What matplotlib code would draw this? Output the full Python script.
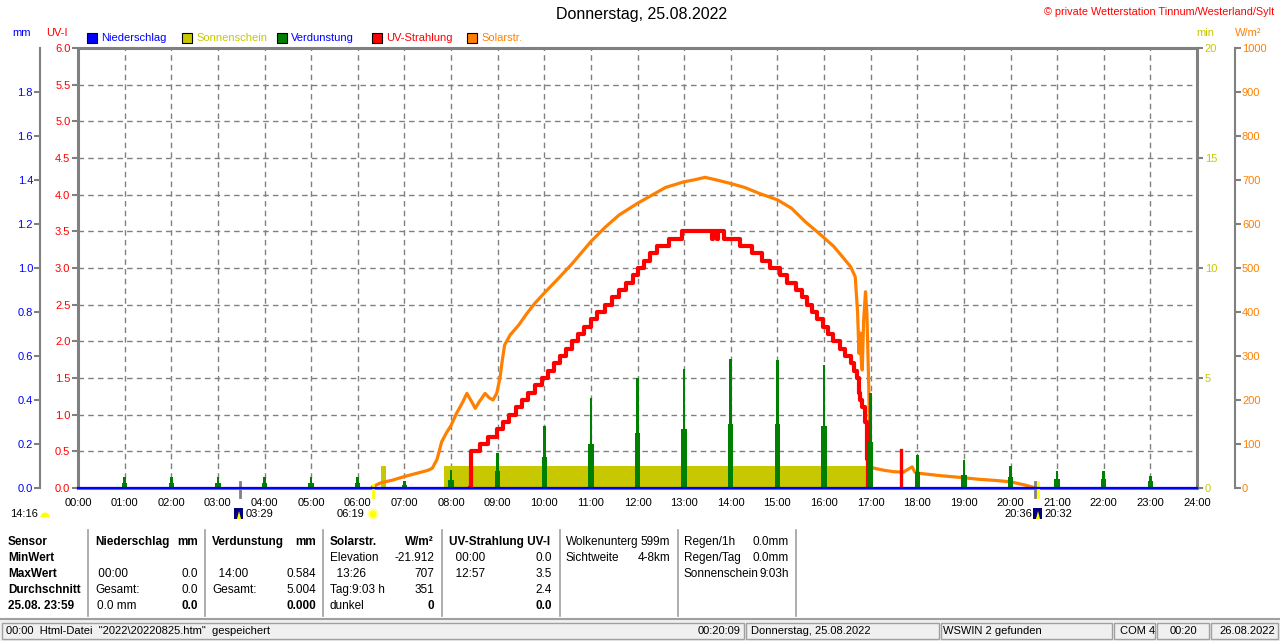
import matplotlib
matplotlib.use('Agg')
import matplotlib.pyplot as plt
import matplotlib.transforms as mtransforms
from matplotlib.patches import Rectangle, Circle, Wedge, Polygon
from matplotlib.lines import Line2D

plt.rcParams['font.family'] = ['Liberation Sans', 'DejaVu Sans']

# ---- data ----
hours = list(range(25))
hour_labels = [f"{h:02d}:00" for h in hours]

# Niederschlag (mm) - nothing fell
rain_t = [0, 24]
rain_mm = [0.0, 0.0]

# Sonnenschein (min per minute step)
sun_t = [0, 6.50, 6.61, 7.86, 16.95, 24]
sun_min = [0, 1, 0, 1, 0, 0]

# Verdunstung (mm), spikes at the full hours: tall part and lower part
evap_h = list(range(1, 24))
evap_top = [0.052, 0.052, 0.052, 0.052, 0.052, 0.052, 0.03, 0.082, 0.158, 0.28,
            0.41, 0.50, 0.54, 0.586, 0.58, 0.56, 0.43, 0.15, 0.127, 0.10,
            0.077, 0.077, 0.055]
evap_low = [0.024, 0.024, 0.024, 0.024, 0.024, 0.024, 0.015, 0.036, 0.077, 0.14,
            0.20, 0.25, 0.27, 0.29, 0.29, 0.28, 0.21, 0.074, 0.06, 0.05,
            0.04, 0.04, 0.03]

# UV-Strahlung (UV-I), stepped
uv_t = [8.40, 8.42, 8.62, 8.80, 8.98, 9.12, 9.25, 9.40, 9.52, 9.65, 9.80, 9.95,
        10.08, 10.20, 10.33, 10.46, 10.60, 10.73, 10.86, 11.00, 11.14, 11.30,
        11.45, 11.60, 11.75, 11.90, 12.00, 12.13, 12.27, 12.42, 12.67, 12.95,
        13.60, 13.63, 13.70, 13.73, 13.85, 14.20, 14.45, 14.67, 14.85, 15.06,
        15.20, 15.40, 15.52, 15.64, 15.75, 15.85, 15.97, 16.08, 16.20, 16.35,
        16.45, 16.57, 16.64, 16.71, 16.75, 16.78, 16.82, 16.89, 16.92, 16.95]
uv_val = [0.0, 0.5, 0.6, 0.7, 0.8, 0.9, 1.0, 1.1, 1.2, 1.3, 1.4, 1.5,
          1.6, 1.7, 1.8, 1.9, 2.0, 2.1, 2.2, 2.3, 2.4, 2.5,
          2.6, 2.7, 2.8, 2.9, 3.0, 3.1, 3.2, 3.3, 3.4, 3.5,
          3.4, 3.5, 3.4, 3.5, 3.4, 3.3, 3.2, 3.1, 3.0, 2.9,
          2.8, 2.7, 2.6, 2.5, 2.4, 2.3, 2.2, 2.1, 2.0, 1.9,
          1.8, 1.7, 1.6, 1.5, 1.3, 1.2, 1.1, 0.9, 0.4, 0.0]
uv_spike_t = [17.66, 17.66]
uv_spike_val = [0.0, 0.52]

# Solarstrahlung (W/m2)
solar_t = [6.32, 6.5, 6.75, 7.0, 7.25, 7.5, 7.6, 7.7, 7.8, 7.9, 8.0, 8.12, 8.25,
           8.34, 8.45, 8.52, 8.6, 8.73, 8.82, 8.9, 8.98, 9.05, 9.1, 9.15, 9.27,
           9.45, 9.63, 9.8, 10.0, 10.3, 10.6, 11.0, 11.3, 11.6, 12.0, 12.3, 12.6,
           13.0, 13.2, 13.45, 13.7, 14.0, 14.3, 14.6, 15.0, 15.3, 15.6, 15.9,
           16.2, 16.4, 16.57, 16.67, 16.72, 16.75, 16.78, 16.8, 16.82, 16.85,
           16.89, 16.92, 16.96, 16.99, 17.07, 17.3, 17.5, 17.7, 17.89, 17.95,
           18.07, 18.5, 18.93, 19.3, 19.7, 20.0, 20.3, 20.55]
solar_w = [3, 12, 18, 26, 33, 40, 45, 65, 105, 125, 142, 170, 195,
           215, 195, 181, 195, 215, 205, 200, 215, 250, 290, 325, 348,
           370, 397, 420, 443, 476, 510, 560, 592, 620, 647, 665, 683,
           696, 700, 706, 700, 692, 683, 670, 655, 636, 605, 578,
           550, 525, 503, 480, 400, 306, 352, 290, 268, 380,
           446, 397, 230, 50, 45, 40, 37, 36, 48, 36,
           33, 28, 24, 20, 17, 14, 7, 0]

RED = '#FF0000'
ORANGE = '#FF8000'
GREEN = '#008000'
OLIVE = '#C8C800'
BLUE = '#0000FF'
GRAY = '#808080'

W, H = 1280, 641
fig = plt.figure(figsize=(12.8, 6.41), dpi=100)
fig.patch.set_facecolor('white')


def T(x, y, s, **kw):
    kw.setdefault('va', 'center')
    kw.setdefault('fontsize', 8.5)
    fig.text(x / W, 1 - y / H, s, **kw)


def P(x, y):
    return (x / 100.0, (H - y) / 100.0)


# ---- axes ----
ax = fig.add_axes([78 / W, 1 - 488 / H, (1197 - 78) / W, (488 - 48) / H])
ax.set_xlim(0, 24)
ax.set_ylim(0, 6)
ax.set_xticks(hours)
ax.set_xticklabels(hour_labels)
ax.tick_params(axis='x', length=0, pad=7, labelsize=8)
ax.set_yticks([i * 0.5 for i in range(13)])
ax.set_yticklabels([f"{i * 0.5:.1f}" for i in range(13)])
ax.tick_params(axis='y', length=4, width=1.5, color=GRAY, pad=1.5,
               labelsize=8, labelcolor=RED)
ax.grid(True, color=GRAY, linestyle=(0, (4, 3)), linewidth=1)
for sp in ax.spines.values():
    sp.set_color(GRAY)
    sp.set_linewidth(2.2)

ax_min = ax.twinx()
ax_w = ax.twinx()
ax_red = ax.twinx()
ax_mm = ax.twinx()
for z, a in enumerate([ax_min, ax_w, ax_red, ax_mm], start=1):
    a.set_zorder(z)
    for sp in a.spines.values():
        sp.set_visible(False)

ax_w.spines['right'].set_visible(True)
ax_w.spines['right'].set_position(('outward', 27.4))
ax_w.spines['right'].set_color(GRAY)
ax_w.spines['right'].set_linewidth(1.5)

ax_mm.spines['left'].set_visible(True)
ax_mm.spines['left'].set_position(('outward', 27.4))
ax_mm.spines['left'].set_color(GRAY)
ax_mm.spines['left'].set_linewidth(1.5)
ax_mm.yaxis.set_ticks_position('left')
ax_mm.yaxis.set_label_position('left')

ax_min.set_ylim(0, 20)
ax_min.set_yticks([0, 5, 10, 15, 20])
ax_min.set_yticklabels(['0', '5', '10', '15', '20'])
ax_min.tick_params(axis='y', length=4, width=1.5, color=GRAY, pad=1.5,
                   labelsize=8, labelcolor=OLIVE)
ax_min.fill_between(sun_t, sun_min, step='post', color=OLIVE, linewidth=0)

ax_w.set_ylim(0, 1000)
ax_w.set_yticks(range(0, 1001, 100))
ax_w.set_yticklabels([str(v) for v in range(0, 1001, 100)])
ax_w.tick_params(axis='y', length=4, width=1.5, color=GRAY, pad=1,
                 labelsize=8, labelcolor=ORANGE)
ax_w.plot(solar_t, solar_w, color=ORANGE, linewidth=2.3)

ax_red.set_ylim(0, 6)
ax_red.set_yticks([])
ax_red.plot(uv_t, uv_val, drawstyle='steps-post', color=RED, linewidth=3)
ax_red.plot(uv_spike_t, uv_spike_val, color=RED, linewidth=2.4)

ax_mm.set_ylim(0, 2.0)
ax_mm.set_yticks([i * 0.2 for i in range(10)])
ax_mm.set_yticklabels([f"{i * 0.2:.1f}" for i in range(10)])
ax_mm.tick_params(axis='y', length=4, width=1.5, color=GRAY, pad=1,
                  labelsize=8, labelcolor=BLUE)
ax_mm.bar(evap_h, evap_low, width=7 / 60, color=GREEN, linewidth=0)
ax_mm.bar(evap_h, evap_top, width=3.5 / 60, color=GREEN, linewidth=0)
ax_mm.plot(rain_t, rain_mm, color=BLUE, linewidth=1.6, clip_on=False)

# ---- header texts ----
T(642, 15, 'Donnerstag, 25.08.2022', ha='center', fontsize=11.5)
T(1274, 12, '© private Wetterstation Tinnum/Westerland/Sylt', ha='right',
  fontsize=7.8, color=RED)
T(22, 33, 'mm', ha='center', color=BLUE, fontsize=8)
T(57, 33, 'UV-I', ha='center', color=RED, fontsize=8)
T(1205, 33, 'min', ha='center', color=OLIVE, fontsize=8)
T(1248, 33, 'W/m²', ha='center', color=ORANGE, fontsize=8)

legend = [('Niederschlag', BLUE, BLUE, 87), ('Sonnenschein', OLIVE, OLIVE, 182),
          ('Verdunstung', GREEN, BLUE, 277), ('UV-Strahlung', RED, RED, 372),
          ('Solarstr.', ORANGE, ORANGE, 467)]
for name, box, txt, x0 in legend:
    fig.patches.append(Rectangle(P(x0, 43), 0.10, 0.10, transform=fig.dpi_scale_trans,
                                 facecolor=box, edgecolor='black', linewidth=0.8))
    T(x0 + 14, 38, name, color=txt, fontsize=8)

# ---- sun / moon marks below the time axis ----
btr = mtransforms.blended_transform_factory(ax.transData, fig.transFigure)
marks = [(3.483, GRAY, 482), (6.317, '#FFFF00', 485), (20.533, GRAY, 482), (20.6, '#FFFF00', 482)]
for t, c, ytop in marks:
    fig.lines.append(Line2D([t, t], [1 - ytop / H, 1 - 497 / H], transform=btr,
                            color=c, linewidth=2))

T(10, 514, '14:16', fontsize=8)
fig.patches.append(Wedge(P(45, 517), 0.045, 0, 180, transform=fig.dpi_scale_trans,
                         facecolor='#FFFF00', edgecolor='none'))
T(246, 514, '03:29', fontsize=8)
T(364, 514, '06:19', ha='right', fontsize=8)
fig.patches.append(Circle(P(373, 514), 0.045, transform=fig.dpi_scale_trans,
                          facecolor='#FFFF00', edgecolor='#FFFF99', linewidth=1.5))
T(1032, 514, '20:36', ha='right', fontsize=8)
T(1044, 514, '20:32', fontsize=8)
for x0 in (234, 1033):
    fig.patches.append(Rectangle(P(x0, 519), 0.09, 0.11, transform=fig.dpi_scale_trans,
                                 facecolor='#000080', edgecolor='none'))
    fig.patches.append(Polygon([P(x0 + 3, 519), P(x0 + 5, 511), P(x0 + 7, 519)],
                               transform=fig.dpi_scale_trans, facecolor='#FFFF00',
                               edgecolor='none'))

# ---- info table ----
for x in (88, 205, 323, 442, 560, 678, 796):
    fig.lines.append(Line2D([x / W, x / W], [1 - 530 / H, 1 - 616 / H],
                            transform=fig.transFigure, color='#A0A0A0', linewidth=1.2))

rows_y = [542, 558, 574, 590, 606]
col_sensor = ['Sensor', 'MinWert', 'MaxWert', 'Durchschnitt', '25.08. 23:59']
for y, s in zip(rows_y, col_sensor):
    T(8, y, s, fontweight='bold')

T(95, 542, 'Niederschlag', fontweight='bold')
T(198, 542, 'mm', ha='right', fontweight='bold')
for y, l, r in [(574, ' 00:00', '0.0'), (590, 'Gesamt:', '0.0')]:
    T(95, y, l)
    T(198, y, r, ha='right')
T(97, 606, '0.0 mm')
T(198, 606, '0.0', ha='right', fontweight='bold')

T(212, 542, 'Verdunstung', fontweight='bold')
T(316, 542, 'mm', ha='right', fontweight='bold')
for y, l, r in [(574, '  14:00', '0.584'), (590, 'Gesamt:', '5.004')]:
    T(212, y, l)
    T(316, y, r, ha='right')
T(316, 606, '0.000', ha='right', fontweight='bold')

T(330, 542, 'Solarstr.', fontweight='bold')
T(434, 542, 'W/m²', ha='right', fontweight='bold')
for y, l, r in [(558, 'Elevation', '-21.912'), (574, '  13:26', '707'),
                (590, 'Tag:9:03 h', '351')]:
    T(330, y, l)
    T(434, y, r, ha='right')
T(330, 606, 'dunkel')
T(434, 606, '0', ha='right', fontweight='bold')

T(449, 542, 'UV-Strahlung UV-I', fontweight='bold')
for y, l, r in [(558, '  00:00', '0.0'), (574, '  12:57', '3.5'), (590, '', '2.4')]:
    T(449, y, l)
    T(552, y, r, ha='right')
T(552, 606, '0.0', ha='right', fontweight='bold')

for y, l, r in [(542, 'Wolkenunterg', '599m'), (558, 'Sichtweite', '4-8km')]:
    T(566, y, l)
    T(670, y, r, ha='right')
for y, l, r in [(542, 'Regen/1h', '0.0mm'), (558, 'Regen/Tag', '0.0mm'),
                (574, 'Sonnenschein', '9:03h')]:
    T(684, y, l)
    T(789, y, r, ha='right')

# ---- status bar ----
fig.patches.append(Rectangle((0, 0), 1, 22 / H, transform=fig.transFigure,
                             facecolor='#F0F0F0', edgecolor='none'))
fig.lines.append(Line2D([0, 1], [22 / H, 22 / H], transform=fig.transFigure,
                        color='#A0A0A0', linewidth=1.5))
panels = [(2, 744), (746, 939), (941, 1112), (1114, 1155), (1157, 1209), (1211, 1278)]
for x0, x1 in panels:
    fig.patches.append(Rectangle(P(x0, 639), (x1 - x0) / 100, 0.16,
                                 transform=fig.dpi_scale_trans, facecolor='#F0F0F0',
                                 edgecolor='#A0A0A0', linewidth=1))
T(6, 631, '00:00  Html-Datei  "2022\\20220825.htm"  gespeichert', fontsize=8)
T(741, 631, '00:20:09', ha='right', fontsize=8)
T(751, 631, 'Donnerstag, 25.08.2022', fontsize=8)
T(943, 631, 'WSWIN 2 gefunden', fontsize=8)
T(1120, 631, 'COM 4', fontsize=8)
T(1170, 631, '00:20', fontsize=8)
T(1219, 631, '26.08.2022', fontsize=8)

fig.savefig('out.png', dpi=100)
